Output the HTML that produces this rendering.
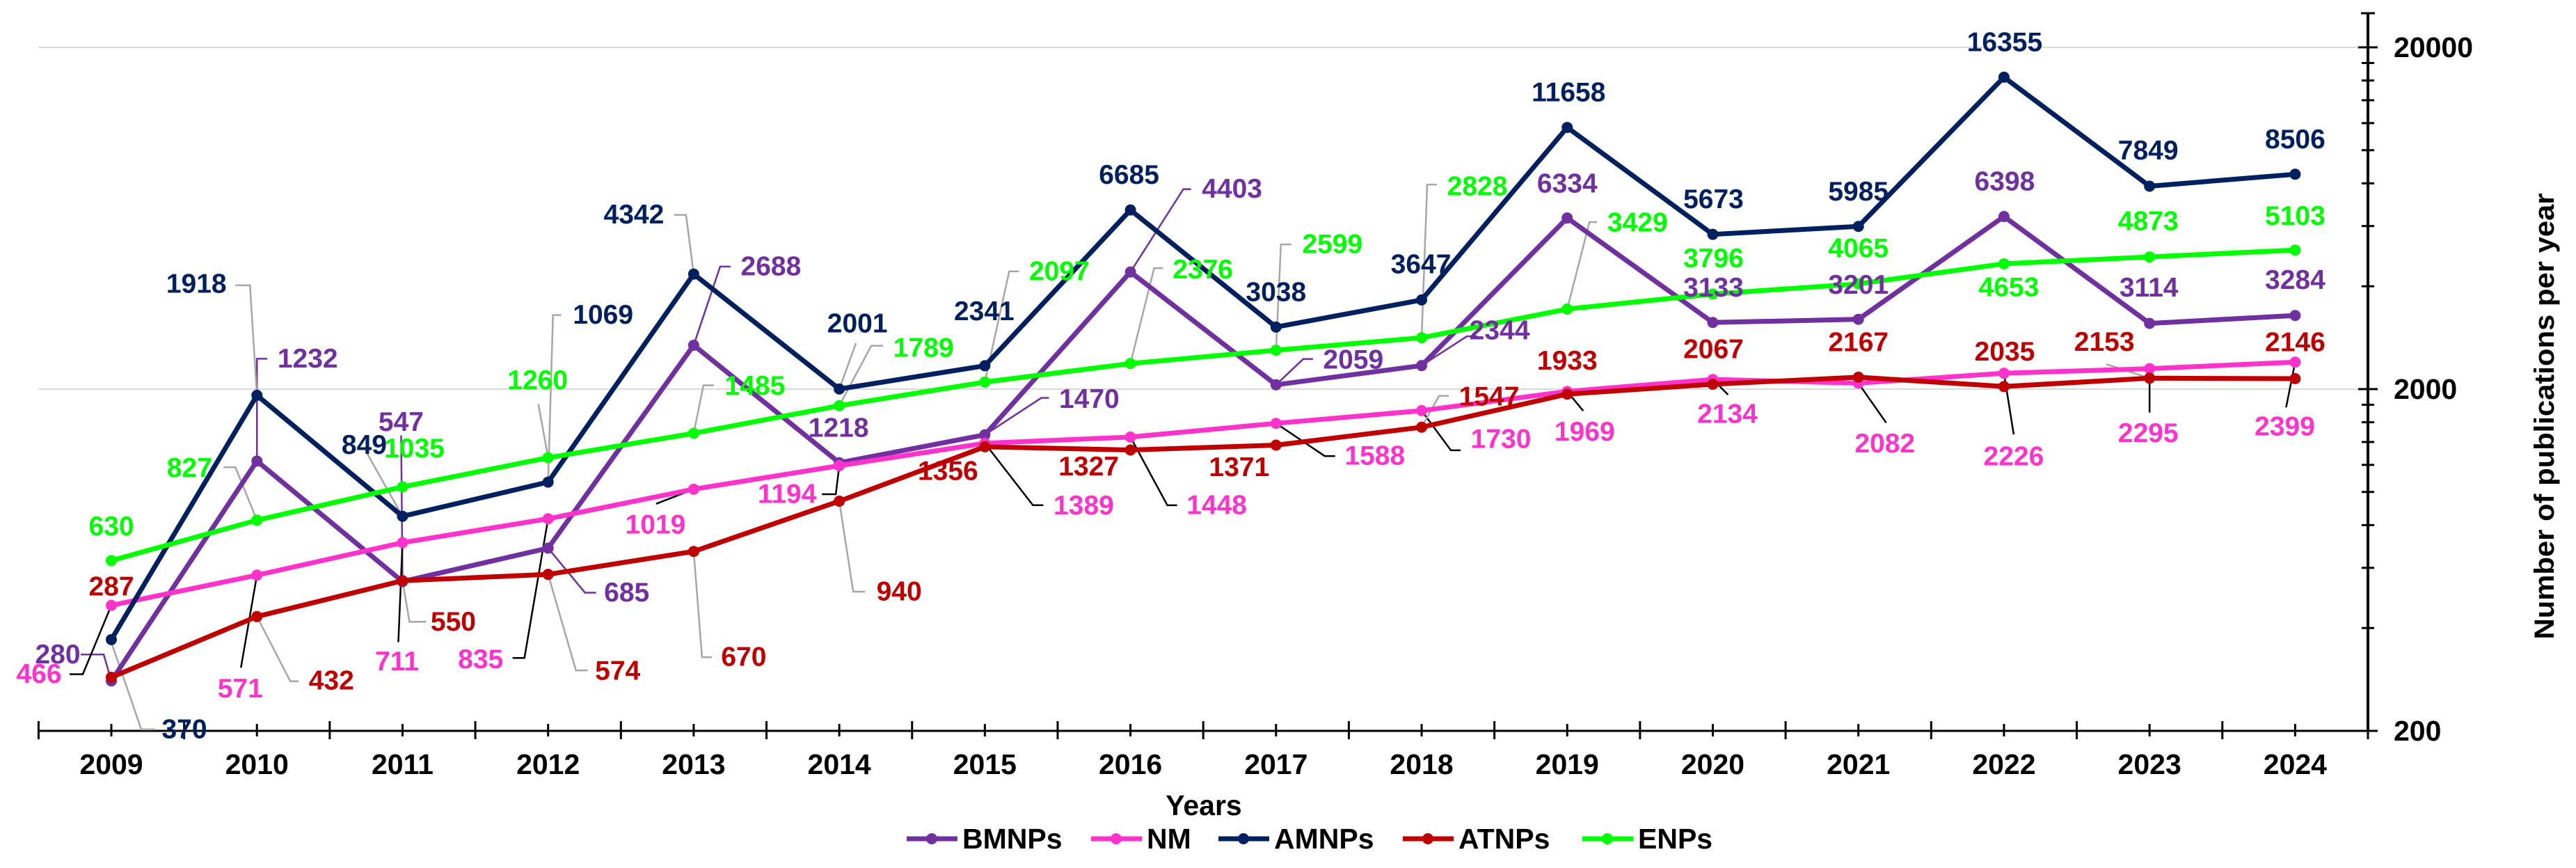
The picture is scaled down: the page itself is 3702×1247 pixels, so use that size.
<!DOCTYPE html>
<html><head><meta charset="utf-8"><title>Publications per year</title>
<style>
html,body{margin:0;padding:0;background:#fff;}
svg{display:block;font-family:"Liberation Sans",Arial,sans-serif;}
</style></head>
<body>
<svg id="chart" width="3702" height="1247" viewBox="0 0 3702 1247" xmlns="http://www.w3.org/2000/svg">
<rect x="0" y="0" width="3702" height="1247" fill="#fff"/>
<g id="grid"></g>
<g id="axes"></g>
<g id="leaders"></g>
<g id="series"></g>
<g id="labels"></g>
<text x="1730" y="1157" text-anchor="middle" dominant-baseline="central" font-size="41" font-weight="bold">Years</text>
<text transform="translate(3657,598) rotate(-90)" text-anchor="middle" dominant-baseline="central" font-size="40" font-weight="bold" textLength="641" lengthAdjust="spacingAndGlyphs">Number of publications per year</text>
<g id="legend"></g>
</svg>
<script>
const years = ["2009","2010","2011","2012","2013","2014","2015","2016","2017","2018","2019","2020","2021","2022","2023","2024"];
const bmnps = [280,1232,547,685,2688,1218,1470,4403,2059,2344,6334,3133,3201,6398,3114,3284];
const nm    = [466,571,711,835,1019,1194,1389,1448,1588,1730,1969,2134,2082,2226,2295,2399];
const amnps = [370,1918,849,1069,4342,2001,2341,6685,3038,3647,11658,5673,5985,16355,7849,8506];
const atnps = [287,432,550,574,670,940,1356,1327,1371,1547,1933,2067,2167,2035,2153,2146];
const enps  = [630,827,1035,1260,1485,1789,2097,2376,2599,2828,3429,3796,4065,4653,4873,5103];
const seriesNames = ["BMNPs","NM","AMNPs","ATNPs","ENPs"];
const yTickLabels = ["200","2000","20000"];
const yTickValues = [200,2000,20000];

// label placement (offsets relative to each point) — layout, not data
const bmOff = [[-77,-38],[73,-147],[-2,-229],[113,64],[111,-113],[-1,-50],[150,-51],[146,-119],[111,-36],[112,-50],[0,-49],[1,-50],[0,-49],[1,-50],[-1,-51],[0,-51]];
const nmOff = [[-104,99],[-24,163],[-8,171],[-97,202],[-55,51],[-75,41],[142,90],[124,98],[142,47],[114,41],[25,58],[21,50],[38,87],[14,120],[-2,93],[-15,93]];
const amOff = [[105,129],[-87,-160],[-55,-102],[79,-240],[-86,-85],[26,-94],[-1,-78],[-2,-50],[0,-50],[-1,-51],[2,-50],[1,-50],[0,-50],[1,-50],[-2,-51],[0,-50]];
const atOff = [[0,-130],[107,92],[73,59],[100,139],[72,152],[86,130],[-53,35],[-60,24],[-53,32],[97,-44],[0,-48],[1,-50],[0,-50],[1,-50],[-65,-52],[0,-52]];
const enOff = [[0,-49],[-97,-75],[17,-55],[-15,-111],[88,-68],[121,-83],[107,-159],[104,-135],[81,-152],[80,-217],[101,-124],[1,-51],[0,-51],[7,34],[-2,-51],[0,-49]];
const bmLead = [[[-44,-38],[-11,-38],[0,0]],[[15,-147],[0,-147],[0,0]],[[-2,-210],[0,0]],[[69,64],[53,64],[0,0]],[[53,-113],[38,-113],[0,0]],null,[[92,-53],[81,-53],[0,0]],[[87,-119],[76,-119],[0,0]],[[53,-37],[39,-37],[0,0]],[[80,-42],[65,-42],[0,0]],null,null,null,null,null,null];
const nmLead = [[[-60,99],[-41,99],[0,0]],[[-23,133],[0,0]],[[-6,143],[0,0]],[[-51,200],[-34,200],[0,0]],[[-54,21],[0,0]],[[-25,41],[-5,41],[0,0]],[[84,89],[69,89],[0,0]],[[67,98],[53,98],[0,0]],[[85,47],[70,47],[0,0]],[[56,57],[42,57],[0,0]],[[23,28],[0,0]],[[22,22],[0,0]],[[40,57],[0,0]],[[14,88],[0,0]],[[0,63],[0,0]],[[-13,65],[0,0]]];
const amLead = [[[0,4],[43,129],[63,129]],[[-31,-158],[-10,-158],[0,0]],[[-53,-94],[0,0]],[[19,-240],[7,-240],[0,0]],[[-28,-85],[-11,-85],[0,0]],[[24,-66],[0,0]],null,null,null,null,null,null,null,null,null,null];
const atLead = [null,[[60,93],[48,93],[0,0]],[[34,59],[10,59],[0,0]],[[57,138],[40,138],[0,0]],[[26,152],[12,152],[0,0]],[[37,130],[20,130],[0,0]],null,null,null,[[39,-45],[25,-45],[0,0]],null,null,null,null,[[-62,-20],[0,0]],null];
const enLead = [null,[[-48,-76],[-31,-76],[0,0]],null,[[-14,-77],[0,0]],[[29,-69],[14,-69],[0,0]],[[63,-86],[46,-86],[0,0]],[[49,-159],[35,-159],[0,0]],[[47,-137],[34,-137],[0,0]],[[22,-152],[7,-152],[0,0]],[[22,-220],[8,-220],[0,0]],[[43,-125],[32,-125],[0,0]],null,null,null,null,null];

const NS = "http://www.w3.org/2000/svg";
const X0 = 55.4, X1 = 3403, Y200 = 1050, DEC = 491;
const step = (X1 - X0) / years.length;
function xPos(i){ return X0 + step * (i + 0.5); }
function yPos(v){ return Y200 - DEC * Math.log10(v / 200); }
function mk(tag, attrs, parent){
  const el = document.createElementNS(NS, tag);
  for (const k in attrs) el.setAttribute(k, attrs[k]);
  parent.appendChild(el);
  return el;
}
const gGrid = document.getElementById("grid"), gAxes = document.getElementById("axes"),
      gLead = document.getElementById("leaders"), gSer = document.getElementById("series"),
      gLab = document.getElementById("labels"), gLeg = document.getElementById("legend");

// gridlines
[2000, 20000].forEach(v => {
  const l = mk("line", {x1:X0, x2:X1, y1:yPos(v), y2:yPos(v), stroke:"#d9d9d9", "stroke-width":2}, gGrid);
  
  
});

// x axis
const xa = mk("line", {x1:X0, x2:X1, y1:Y200, y2:Y200, stroke:"#000", "stroke-width":3}, gAxes);


for (let i = 0; i <= years.length; i++) {
  const x = X0 + step * i;
  const t = mk("line", {x1:x, x2:x, y1:Y200-14, y2:Y200+12, stroke:"#000", "stroke-width":3}, gAxes);
  
  
}
years.forEach((yr, i) => {
  const x = xPos(i);
  const t = mk("line", {x1:x, x2:x, y1:Y200-10, y2:Y200+8, stroke:"#000", "stroke-width":3}, gAxes);
  
  
  const tx = mk("text", {x:x, y:1098, "text-anchor":"middle", "dominant-baseline":"central", "font-size":41, "font-weight":"bold"}, gAxes);
  tx.textContent = yr;
  
  
});

// right y axis
const ya = mk("line", {x1:X1, x2:X1, y1:18, y2:Y200, stroke:"#000", "stroke-width":4}, gAxes);


const capT = mk("line", {x1:X1-10, x2:X1+10, y1:19, y2:19, stroke:"#000", "stroke-width":3}, gAxes);


yTickValues.forEach((v, i) => {
  const y = yPos(v);
  const t = mk("line", {x1:X1-14, x2:X1+14, y1:y, y2:y, stroke:"#000", "stroke-width":3}, gAxes);
  
  
  const tx = mk("text", {x:3440, y:y, "text-anchor":"start", "dominant-baseline":"central", "font-size":41, "font-weight":"bold"}, gAxes);
  tx.textContent = yTickLabels[i];
  
  
});
[400,600,800,1000,1200,1400,1600,1800,4000,6000,8000,10000,12000,14000,16000,18000].forEach(v => {
  const y = yPos(v);
  const t = mk("line", {x1:X1-9, x2:X1+9, y1:y, y2:y, stroke:"#000", "stroke-width":3}, gAxes);
  
  
});

const seriesDefs = [
  {name:"BMNPs", data:bmnps, color:"#7030A0", off:bmOff, lead:bmLead, leadColor:"#7030A0"},
  {name:"NM",    data:nm,    color:"#FF33CC", off:nmOff, lead:nmLead, leadColor:"#000000"},
  {name:"AMNPs", data:amnps, color:"#002060", off:amOff, lead:amLead, leadColor:"#a6a6a6"},
  {name:"ATNPs", data:atnps, color:"#C00000", off:atOff, lead:atLead, leadColor:"#a6a6a6"},
  {name:"ENPs",  data:enps,  color:"#00FF00", off:enOff, lead:enLead, leadColor:"#a6a6a6"}
];

// leaders
seriesDefs.forEach(s => {
  s.data.forEach((v, i) => {
    const L = s.lead[i];
    if (!L) return;
    const px = xPos(i), py = yPos(v);
    const pts = L.map(p => (px + p[0]) + "," + (py + p[1])).join(" ");
    const pl = mk("polyline", {points:pts, fill:"none", stroke:s.leadColor, "stroke-width":2.5}, gLead);
    
    
  });
});

// lines and markers
seriesDefs.forEach(s => {
  const g = mk("g", {}, gSer);
  
  
  const pts = s.data.map((v, i) => xPos(i) + "," + yPos(v)).join(" ");
  const pl = mk("polyline", {points:pts, fill:"none", stroke:s.color, "stroke-width":7, "stroke-linejoin":"round"}, g);
  
  
  s.data.forEach((v, i) => {
    const c = mk("circle", {cx:xPos(i), cy:yPos(v), r:8, fill:s.color}, g);
    
    
  });
});

// data labels
seriesDefs.forEach(s => {
  s.data.forEach((v, i) => {
    const o = s.off[i];
    const t = mk("text", {x:xPos(i) + o[0], y:yPos(v) + o[1], "text-anchor":"middle", "dominant-baseline":"central", "font-size":39, "font-weight":"bold", fill:s.color}, gLab);
    t.textContent = String(v);
    
    
  });
});

// legend
const legX = [1303, 1568, 1751, 2016, 2274];
seriesDefs.forEach((s, i) => {
  const g = mk("g", {}, gLeg);
  
  
  const x = legX[i], y = 1205;
  mk("line", {x1:x, x2:x+73, y1:y, y2:y, stroke:s.color, "stroke-width":7}, g);
  mk("circle", {cx:x+36, cy:y, r:8, fill:s.color}, g);
  const t = mk("text", {x:x+80, y:y, "dominant-baseline":"central", "font-size":41, "font-weight":"bold"}, g);
  t.textContent = s.name;
});
</script>
</body></html>
